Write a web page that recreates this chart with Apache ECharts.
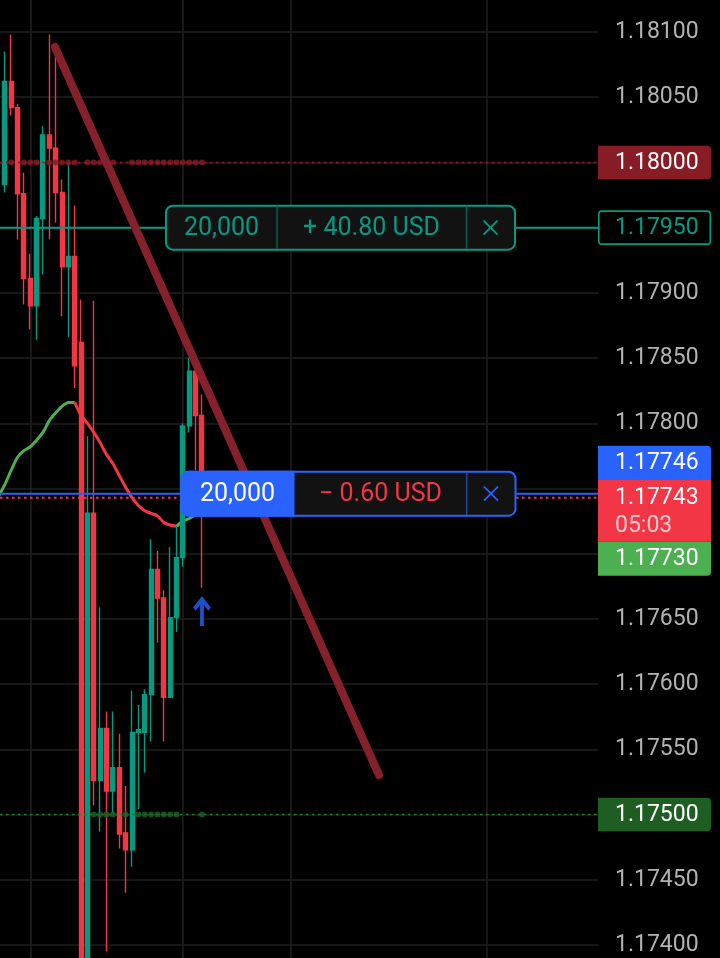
<!DOCTYPE html>
<html><head><meta charset="utf-8">
<script src="https://cdn.jsdelivr.net/npm/echarts@6.0.0/dist/echarts.min.js"></script>
<style>html,body{margin:0;padding:0;background:#000;}#c{width:720px;height:958px;}</style>
</head><body><div id="c"></div>
<script>
// ---- data ----
const candleIdx = [0,1,2,3,4,5,6,7,8,9,10,11,12,13,14,15,16,17,18,19,20,21,22,23,24,25,26,27,28,29,30,31];
const openP  = [1.17983,1.18062,1.18042,1.17976,1.17911,1.17890,1.17957,1.18021,1.18011,1.17977,1.17920,1.17928,1.17862,1.17365,1.17731,1.17526,1.17566,1.17518,1.17536,1.17486,1.17473,1.17563,1.17563,1.17592,1.17688,1.17666,1.17590,1.17651,1.17697,1.17798,1.17840,1.17806];
const closeP = [1.18062,1.18042,1.17976,1.17911,1.17890,1.17957,1.18021,1.18011,1.17977,1.17920,1.17928,1.17844,1.17360,1.17731,1.17526,1.17566,1.17518,1.17536,1.17485,1.17473,1.17563,1.17565,1.17592,1.17688,1.17666,1.17590,1.17651,1.17697,1.17798,1.17840,1.17806,1.17743];
const lowP   = [1.17977,1.18036,1.17941,1.17891,1.17872,1.17864,1.17914,1.17941,1.17954,1.17882,1.17866,1.17827,1.17345,1.17340,1.17507,1.17487,1.17395,1.17500,1.17474,1.17440,1.17460,1.17504,1.17532,1.17556,1.17632,1.17556,1.17590,1.17640,1.17690,1.17793,1.17764,1.17674];
const highP  = [1.18085,1.18098,1.18045,1.17992,1.17930,1.17959,1.18028,1.18098,1.18081,1.17987,1.18000,1.17967,1.17895,1.17790,1.17894,1.17659,1.17579,1.17579,1.17562,1.17522,1.17595,1.17584,1.17596,1.17711,1.17702,1.17672,1.17705,1.17721,1.17800,1.17850,1.17842,1.17822];

const maIdx  = [-1,0,1,2,3,4,5,6,7,8,9,10,11,12,13,14,15,16,17,18,19,20,21,22,23,24,25,26,27,28,29,30,31];
const maVals = [1.17744,1.17753,1.17764,1.17774,1.17779,1.17782,1.17787,1.17793,1.17802,1.17808,1.17813,1.17816,1.17816,1.17806,1.17800,1.17793,1.17785,1.17776,1.17769,1.17760,1.17751,1.17743,1.17737,1.17733,1.17731,1.17729,1.17724,1.17722,1.17721,1.17725,1.17727,1.17730,1.17734];
const maFallFrom = 11, maRiseFrom = 27;   // candle index where MA colour flips

const trendIdx   = [7.89, 58.84];
const trendPrice = [1.180885, 1.175303];

const timeGridIdx = [4.12, 28.02, 45.0, 75.82];

const alertLevel  = 1.18000;
const alertDotIdx = [1,3,4,5,7,8,9,10,11,13,14,15,16,17,20,21,22,23,24,25,26,27,28,29,30,31];
const targetLevel = 1.17500;
const targetDotIdx = [14,15,16,17,19,21,22,23,24,25,26,27,31];

const tpLevel    = 1.17950;
const entryLevel = 1.17746;
const lastPrice  = 1.17743;
const maLast     = 1.17730;
const countdown  = '05:03';
const tpTicket    = ['20,000', '+ 40.80 USD'];
const entryTicket = ['20,000', '\u2212 0.60 USD'];
const arrowMarks = [[31, 1.17656]];

const yMin = 1.1735, yMax = 1.1815, yStep = 0.0005;

// ---- chart ----
const GREEN = '#089981', RED = '#f23645', BLUE = '#2962ff';
const chart = echarts.init(document.getElementById('c'), null, {renderer: 'canvas'});

const candles = candleIdx.map((x, i) => [x, openP[i], closeP[i], lowP[i], highP[i]]);
const maPts = maIdx.map((x, i) => [x, maVals[i]]);
const maG1 = maPts.filter(p => p[0] <= maFallFrom);
const maR  = maPts.filter(p => p[0] >= maFallFrom && p[0] <= maRiseFrom);
const maG2 = maPts.filter(p => p[0] >= maRiseFrom);

const priceLines = [
  {level: alertLevel,  style: {stroke: '#8b1c24', lineWidth: 1.5, lineDash: [2.5, 3.5]}},
  {level: targetLevel, style: {stroke: '#1e7a2c', lineWidth: 1.5, lineDash: [2.5, 3.5]}},
  {level: tpLevel,     style: {stroke: GREEN, lineWidth: 2}},
  {level: entryLevel,  style: {stroke: BLUE, lineWidth: 2}},
  {level: lastPrice,   style: {stroke: RED, lineWidth: 2, lineDash: [2.5, 3.5]}}
];

const option = {
  backgroundColor: '#000',
  animation: false,
  grid: {left: 0, width: 598, top: -33.214, height: 1043.43, containLabel: false, outerBoundsMode: 'none'},
  xAxis: {type: 'value', min: -0.755, max: 93.27, show: false},
  yAxis: {
    type: 'value', position: 'right', min: yMin, max: yMax, interval: yStep,
    axisLine: {show: false}, axisTick: {show: false},
    splitLine: {lineStyle: {color: '#1f1f1f', width: 1.5}},
    axisLabel: {margin: 17, color: '#b2b2b2', fontSize: 23, fontFamily: 'Roboto', formatter: v => v.toFixed(5)}
  },
  series: [
    {
      type: 'custom', silent: true, z: 0,
      data: timeGridIdx.map(v => [v, 1.1775]),
      encode: {x: 0, y: 1},
      renderItem: (params, api) => {
        const x = api.coord([api.value(0), api.value(1)])[0];
        return {type: 'line', shape: {x1: x, y1: 0, x2: x, y2: 958}, style: {stroke: '#1f1f1f', lineWidth: 1.5}};
      }
    },
    {type: 'line', data: maG1, symbol: 'none', smooth: 0.3, lineStyle: {color: '#4caf50', width: 3}, z: 2, silent: true},
    {type: 'line', data: maR, symbol: 'none', smooth: 0.3, lineStyle: {color: RED, width: 3}, z: 2, silent: true},
    {type: 'line', data: maG2, symbol: 'none', smooth: 0.3, lineStyle: {color: '#4caf50', width: 3}, z: 2, silent: true},
    {
      type: 'candlestick', data: candles, encode: {x: 0, y: [1, 2, 3, 4]},
      barWidth: 4.5, z: 3, silent: true,
      itemStyle: {color: GREEN, color0: RED, borderColor: GREEN, borderColor0: RED, borderWidth: 1.4}
    },
    {
      type: 'custom', silent: true, z: 5,
      data: priceLines.map(p => [0, p.level]),
      encode: {x: 0, y: 1},
      renderItem: (params, api) => {
        const yp = api.coord([api.value(0), api.value(1)])[1];
        const cs = params.coordSys;
        return {type: 'line', shape: {x1: cs.x, y1: yp, x2: cs.x + cs.width, y2: yp}, style: priceLines[params.dataIndex].style};
      }
    },
    {type: 'scatter', data: alertDotIdx.map(i => [i, alertLevel]), symbolSize: 6, itemStyle: {color: '#8b1c24'}, z: 6, silent: true},
    {type: 'scatter', data: targetDotIdx.map(i => [i, targetLevel]), symbolSize: 6, itemStyle: {color: '#1b6226'}, z: 6, silent: true},
    {
      type: 'line', data: trendIdx.map((x, i) => [x, trendPrice[i]]), symbol: 'none', z: 7, silent: true,
      lineStyle: {color: '#86202a', width: 8, cap: 'round'}
    },
    {
      type: 'scatter', data: arrowMarks, z: 8, silent: true,
      symbol: 'path://M11.5 0 L23 11.5 L19.8 14.7 L14 8.9 L14 30 L9 30 L9 8.9 L3.2 14.7 L0 11.5 Z',
      symbolSize: [23, 30], symbolKeepAspect: true,
      itemStyle: {color: BLUE, shadowColor: 'rgba(0,0,0,1)', shadowBlur: 4}
    }
  ]
};
chart.setOption(option);

// ---- overlays positioned from the y scale ----
const py = v => chart.convertToPixel({yAxisIndex: 0}, v);
const FONT = 'Roboto';
const els = [];
function txt(t, x, y, fill, size, align) {
  els.push({type: 'text', z: 101, silent: true, style: {text: t, x, y, fill, fontSize: size, fontFamily: FONT, align: align || 'left', verticalAlign: 'middle'}});
}
function rect(x, y, w, h, fill, stroke, lw, r) {
  els.push({type: 'rect', z: 100, silent: true, shape: {x, y, width: w, height: h, r: r || 0}, style: {fill, stroke: stroke || null, lineWidth: lw || 0}});
}
function line(x1, y1, x2, y2, stroke, lw) {
  els.push({type: 'line', z: 101, silent: true, shape: {x1, y1, x2, y2}, style: {stroke, lineWidth: lw}});
}
function cross(cx, cy, h, stroke) {
  line(cx - h, cy - h, cx + h, cy + h, stroke, 1.8);
  line(cx - h, cy + h, cx + h, cy - h, stroke, 1.8);
}

// right-hand price tags
let y;
y = py(alertLevel);
rect(598, y - 16.7, 113, 33.4, '#871c24', null, 0, [0, 4, 4, 0]);
txt(alertLevel.toFixed(5), 615, y + 1, '#ffffff', 23);

y = py(tpLevel);
rect(598.8, y - 16.5, 111.5, 33, '#000000', GREEN, 1.6, 3);
txt(tpLevel.toFixed(5), 615, y + 1, GREEN, 23);

y = py(targetLevel);
rect(598, y - 16.7, 113, 33.4, '#1e5e22', null, 0, [0, 4, 4, 0]);
txt(targetLevel.toFixed(5), 615, y + 1, '#ffffff', 23);

// stacked tags: last price anchored, entry above, MA below
const yl = py(lastPrice);
const redTop = yl - 17.6, redH = 61.7;
rect(598, redTop - 34.3, 113, 34.3, BLUE, null, 0, [0, 4, 0, 0]);
txt(entryLevel.toFixed(5), 615, redTop - 17, '#ffffff', 23);
rect(598, redTop, 113, redH, RED, null, 0, 0);
txt(lastPrice.toFixed(5), 615, yl + 1, '#ffffff', 23);
txt(countdown, 615, yl + 28.5, 'rgba(255,255,255,0.72)', 23);
rect(598, redTop + redH, 113, 34, '#4caf50', null, 0, [0, 0, 4, 0]);
txt(maLast.toFixed(5), 615, redTop + redH + 17.5, '#ffffff', 23);

// take-profit ticket
y = py(tpLevel);
rect(166, y - 22, 349, 44, '#121212', GREEN, 2, 7);
line(277, y - 21, 277, y + 21, '#0b5e51', 1.5);
line(466.5, y - 21, 466.5, y + 21, '#0b5e51', 1.5);
txt(tpTicket[0], 221.5, y + 1, GREEN, 25, 'center');
txt(tpTicket[1], 371.5, y + 1, GREEN, 25, 'center');
cross(490.5, y, 7, GREEN);

// entry ticket
y = py(entryLevel);
rect(181.5, y - 22, 334, 44, '#121212', BLUE, 2, 7);
rect(181.5, y - 22, 112, 44, BLUE, BLUE, 2, [7, 0, 0, 7]);
line(466.7, y - 21, 466.7, y + 21, '#22459e', 1.5);
txt(entryTicket[0], 237.5, y + 1, '#ffffff', 25, 'center');
txt(entryTicket[1], 380.5, y + 1, RED, 25, 'center');
cross(491, y, 7, BLUE);

chart.setOption({graphic: {elements: els}});
</script>
</body></html>
